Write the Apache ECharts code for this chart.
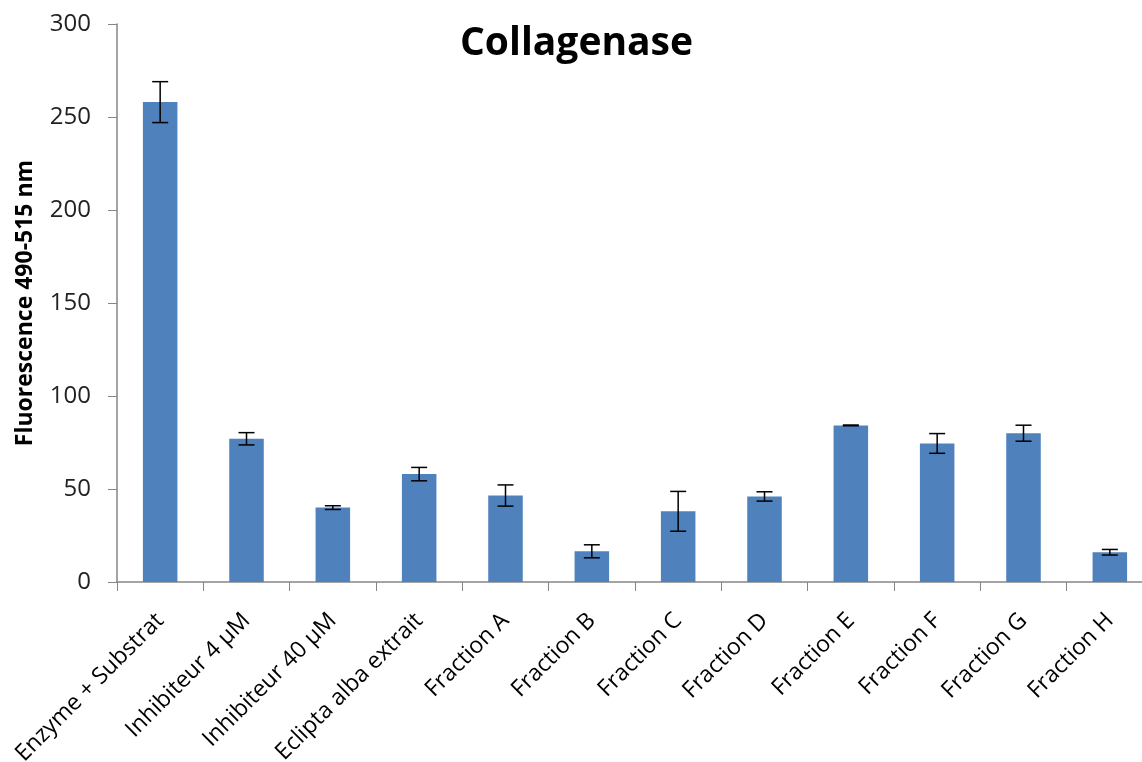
<!DOCTYPE html>
<html>
<head>
<meta charset="utf-8">
<script src="https://cdn.jsdelivr.net/npm/echarts@6/dist/echarts.min.js"></script>
<style>html,body{margin:0;padding:0;background:#fff}#c{width:1142px;height:762px}</style>
</head>
<body>
<div id="c"></div>
<script>
const categories = ['Enzyme + Substrat','Inhibiteur 4 µM','Inhibiteur 40 µM','Eclipta alba extrait','Fraction A','Fraction B','Fraction C','Fraction D','Fraction E','Fraction F','Fraction G','Fraction H'];
const values = [258, 77, 40, 58, 46.5, 16.5, 38, 46, 84.2, 74.5, 80, 16];
const errors = [11, 3.3, 1, 3.6, 5.7, 3.5, 10.7, 2.5, 0.2, 5.3, 4.3, 1.5];
const yTicks = [0, 50, 100, 150, 200, 250, 300];

const chart = echarts.init(document.getElementById('c'));
const errData = values.map((v, i) => [i, v - errors[i], v + errors[i]]);
chart.setOption({
  animation: false,
  backgroundColor: '#ffffff',
  title: {
    text: 'Collagenase', left: 455, top: 19,
    textStyle: { fontFamily: 'Open Sans', fontWeight: 'bold', fontSize: 39, color: '#000' }
  },
  grid: { left: 117, right: -11, top: 24, bottom: 180, outerBoundsMode: 'none' },
  xAxis: {
    type: 'category', data: categories,
    axisLine: { lineStyle: { color: '#868686', width: 1.5 } },
    axisTick: { show: true, length: 9, lineStyle: { color: '#868686' } },
    axisLabel: { rotate: 45, margin: 35, fontFamily: 'Open Sans', fontSize: 23, color: '#000', interval: 0 }
  },
  yAxis: {
    type: 'value', min: 0, max: 300, interval: 50,
    name: 'Fluorescence 490-515 nm', nameLocation: 'middle', nameGap: 80, nameRotate: 90,
    nameTextStyle: { fontFamily: 'Open Sans', fontWeight: 'bold', fontSize: 23, color: '#000' },
    axisLine: { show: true, lineStyle: { color: '#868686', width: 1.5 } },
    axisTick: { show: true, length: 9, lineStyle: { color: '#868686' } },
    splitLine: { show: false },
    axisLabel: { fontFamily: 'Open Sans', fontSize: 24, color: '#222', margin: 26,
      formatter: v => yTicks.includes(v) ? String(v) : '' }
  },
  series: [
    { type: 'bar', data: values, barWidth: '40%', itemStyle: { color: '#4F81BD' } },
    {
      type: 'custom', data: errData, z: 10,
      renderItem: (params, api) => {
        const x = api.value(0);
        const lo = api.coord([x, api.value(1)]);
        const hi = api.coord([x, api.value(2)]);
        const w = 8;
        const st = { stroke: '#000', lineWidth: 1.5 };
        return { type: 'group', children: [
          { type: 'line', shape: { x1: hi[0], y1: hi[1], x2: lo[0], y2: lo[1] }, style: st },
          { type: 'line', shape: { x1: hi[0] - w, y1: hi[1], x2: hi[0] + w, y2: hi[1] }, style: st },
          { type: 'line', shape: { x1: lo[0] - w, y1: lo[1], x2: lo[0] + w, y2: lo[1] }, style: st }
        ]};
      }
    }
  ]
});
</script>
</body>
</html>
